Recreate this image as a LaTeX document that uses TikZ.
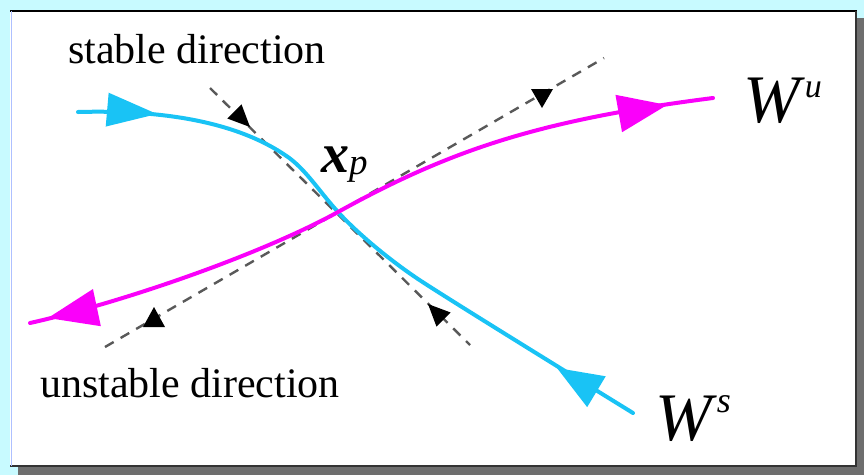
\documentclass[tikz,border=0pt]{standalone}
\usepackage{fontspec}
\setmainfont{Liberation Serif}
\usetikzlibrary{arrows.meta}
\definecolor{bgcyan}{RGB}{200,250,255}
\definecolor{shadowgray}{RGB}{110,110,110}
\definecolor{wscyan}{RGB}{25,195,245}
\definecolor{wumag}{RGB}{250,0,250}
% filled triangle: colour, tip, direction, length, half width
\newcommand{\flowtip}[5]{\fill[#1, shift={#2}, rotate=#3]
  (0,0) -- (-#4,#5) -- (-#4,-#5) -- cycle;}
\tikzset{
  manif/.style   ={line width=4pt, line cap=round},
  stabmf/.style  ={manif, draw=wscyan},
  unstabmf/.style={manif, draw=wumag},
  eigdir/.style  ={draw=black!65, line width=2.4pt,
                   dash pattern=on 10pt off 8pt},
  lbl/.style     ={font=\fontsize{42}{46}\selectfont, inner sep=0pt},
  biglbl/.style  ={inner sep=0pt, anchor=base west},
}

\begin{document}
\begin{tikzpicture}[x=1pt, y=-1pt]
  \useasboundingbox (0,0) rectangle (864,475);
  \fill[bgcyan] (0,0) rectangle (864,475);
  \fill[shadowgray] (18,18) rectangle (864,475);
  \fill[white] (10,10) rectangle (857,466);
  \draw[black, line width=2pt] (10,11) -- (857,11);
  \draw[black!80, line width=2pt] (856,11) -- (856,466) -- (10,466);
  \draw[bgcyan!60!blue!60, line width=1pt] (11,11) -- (11,466);

  \coordinate (xp) at (338,212);
  \coordinate (sA) at (210,88);
  \coordinate (sB) at (470,345);
  \coordinate (uA) at (105,347);
  \coordinate (uB) at (604,58);
  \draw[eigdir] (sA) -- (sB);
  \draw[eigdir] (uA) -- (uB);

  % manifolds
  \draw[stabmf] (78,112) .. controls (150,110) and (230,118) .. (285,155)
    .. controls (305,168) and (318,190) .. (xp)
    .. controls (358,234) and (392,262) .. (421,281)
    .. controls (450,300) and (560,368) .. (633,413);
  \draw[unstabmf] (30,323) .. controls (120,303) and (260,255) .. (xp)
    .. controls (450,150) and (540,120) .. (713,98);

  \flowtip{wscyan}{(157,114)}{-5}{50}{17}
  \flowtip{wscyan}{(557,368)}{149}{46}{18}
  \flowtip{wumag}{(667,105)}{10}{49}{19}
  \flowtip{wumag}{(48,318)}{192}{50}{19}

  \flowtip{black}{(250,127)}{-45}{22}{10}
  \flowtip{black}{(428,304)}{135}{22}{10}
  \flowtip{black}{(542,108)}{-90}{19}{11}
  \flowtip{black}{(154,307)}{90}{20}{11}

  % labels
  \node[lbl, anchor=base west] (stabtxt) at (68,63) {stable direction};
  \node[lbl, anchor=base west] (unstabtxt) at (40,397) {unstable direction};
  \node[biglbl] (xplbl) at (321,172)
    {{\fontsize{56}{60}\selectfont\bfseries\itshape x}%
     \raisebox{-2pt}{\fontsize{37}{40}\selectfont\itshape p}};
  \node[biglbl] (wulbl) at (743,122)
    {{\fontsize{68}{70}\selectfont\itshape W}\kern5pt%
     \raisebox{25pt}{\fontsize{34}{36}\selectfont\itshape u}};
  \node[biglbl] (wslbl) at (655,440)
    {{\fontsize{68}{70}\selectfont\itshape W}\kern5pt%
     \raisebox{28pt}{\fontsize{36}{38}\selectfont\itshape s}};
\end{tikzpicture}
\end{document}
